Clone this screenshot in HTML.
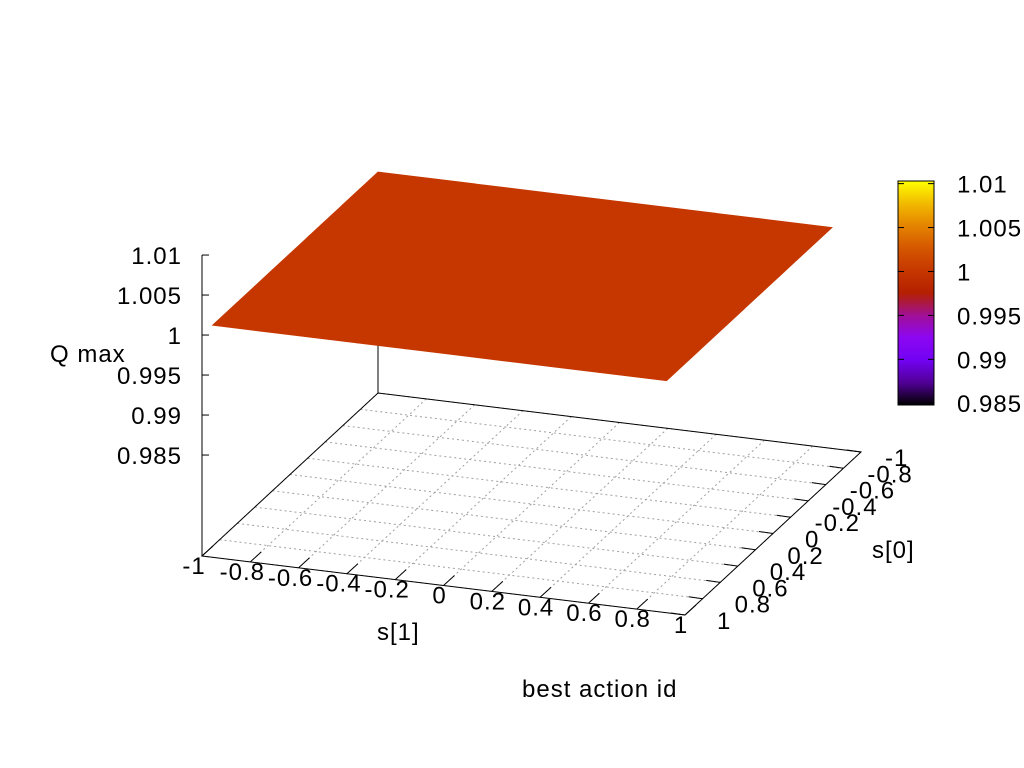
<!DOCTYPE html>
<html><head><meta charset="utf-8"><style>
html,body{margin:0;padding:0;background:#fff;}
svg{display:block;font-family:"Liberation Sans",sans-serif;}
svg text{letter-spacing:1px;}
</style></head><body>
<svg id="chart" width="1024" height="768" viewBox="0 0 1024 768" xmlns="http://www.w3.org/2000/svg">
<defs>
<linearGradient id="pal" x1="0" y1="1" x2="0" y2="0">
<stop offset="0" stop-color="rgb(0,0,0)"/>
<stop offset="0.1" stop-color="rgb(81,0,150)"/>
<stop offset="0.2" stop-color="rgb(114,2,243)"/>
<stop offset="0.3" stop-color="rgb(140,7,243)"/>
<stop offset="0.4" stop-color="rgb(161,16,150)"/>
<stop offset="0.5" stop-color="rgb(180,32,0)"/>
<stop offset="0.6" stop-color="rgb(198,55,0)"/>
<stop offset="0.7" stop-color="rgb(213,87,0)"/>
<stop offset="0.8" stop-color="rgb(228,131,0)"/>
<stop offset="0.9" stop-color="rgb(242,186,0)"/>
<stop offset="1" stop-color="rgb(255,255,0)"/>
</linearGradient>
</defs>
<g id="base"></g>
<g id="surf"></g>
<g id="labels"></g>
</svg>
<script>
const s1Ticks = [-1,-0.8,-0.6,-0.4,-0.2,0,0.2,0.4,0.6,0.8,1];
const s0Ticks = [-1,-0.8,-0.6,-0.4,-0.2,0,0.2,0.4,0.6,0.8,1];
const zTicks = [1.01,1.005,1,0.995,0.99,0.985];
const cbTicks = [1.01,1.005,1,0.995,0.99,0.985];
const s1Grid = [-1,-0.8,-0.6,-0.4,-0.2,0,0.2,0.4,0.6,0.88];
const s0Grid = [-1,-0.8,-0.6,-0.4,-0.2,0,0.2,0.4,0.6,0.88];
const zGrid = [
[1,1,1,1,1,1,1,1,1,1],[1,1,1,1,1,1,1,1,1,1],[1,1,1,1,1,1,1,1,1,1],
[1,1,1,1,1,1,1,1,1,1],[1,1,1,1,1,1,1,1,1,1],[1,1,1,1,1,1,1,1,1,1],
[1,1,1,1,1,1,1,1,1,1],[1,1,1,1,1,1,1,1,1,1],[1,1,1,1,1,1,1,1,1,1],
[1,1,1,1,1,1,1,1,1,1]];
const zMin = 0.985, zMax = 1.01;

const NS = "http://www.w3.org/2000/svg";
const FS = 24;
const Z0 = 0.97238;
function P(s1, s0, z){
  return [378 + (s1+1)*241.5 - (s0+1)*88,
          393 + (s1+1)*29.5 + (s0+1)*81.5 - (z-Z0)*8000];
}
function mk(tag, attrs, parent){
  const e = document.createElementNS(NS, tag);
  for (const k in attrs) e.setAttribute(k, attrs[k]);
  parent.appendChild(e); return e;
}
function palette(t){
  t = Math.max(0, Math.min(1, t));
  const r = Math.sqrt(t), g = t*t*t, b = Math.max(0, Math.sin(2*Math.PI*t));
  return `rgb(${Math.round(r*255)},${Math.round(g*255)},${Math.round(b*255)})`;
}
const base = document.getElementById('base');
const surf = document.getElementById('surf');
const labels = document.getElementById('labels');

s1Ticks.forEach(v=>{
  const a=P(v,-1,Z0), b=P(v,1,Z0);
  const l=mk('line',{x1:a[0],y1:a[1],x2:b[0],y2:b[1],stroke:'#a0a0a0','stroke-width':1,'stroke-dasharray':'2,3'},base);
  
  
});
s0Ticks.forEach(v=>{
  const a=P(-1,v,Z0), b=P(1,v,Z0);
  const l=mk('line',{x1:a[0],y1:a[1],x2:b[0],y2:b[1],stroke:'#a0a0a0','stroke-width':1,'stroke-dasharray':'2,3'},base);
  
  
});
const corners=[P(-1,-1,Z0),P(1,-1,Z0),P(1,1,Z0),P(-1,1,Z0)];
const border=mk('polygon',{points:corners.map(c=>c.join(',')).join(' '),fill:'none',stroke:'#000','stroke-width':1},base);


const bv0=P(-1,-1,Z0), bv1=P(-1,-1,1);
const bvl=mk('line',{x1:bv0[0],y1:bv0[1],x2:bv1[0],y2:bv1[1],stroke:'#000','stroke-width':1},base);


const za=P(-1,1,Z0), zb=P(-1,1,zMax);
const zl=mk('line',{x1:za[0],y1:za[1],x2:zb[0],y2:zb[1],stroke:'#000','stroke-width':1},base);


zTicks.forEach(v=>{
  const p=P(-1,1,v);
  const t=mk('line',{x1:p[0],y1:p[1],x2:p[0]+7,y2:p[1],stroke:'#000'},base);
  
  
  const tx=mk('text',{x:182,y:p[1]+9,'font-size':FS,'text-anchor':'end'},labels);
  tx.textContent=String(v);
  
  
});
s1Ticks.forEach(v=>{
  const p=P(v,1,Z0);
  const t=mk('line',{x1:p[0],y1:p[1],x2:p[0]+11,y2:p[1]-10,stroke:'#000'},base);
  
  
  const tx=mk('text',{x:p[0]-4-(v<0?4:0),y:p[1]+18,'font-size':FS,'text-anchor':'middle'},labels);
  tx.textContent=String(v);
  
  
});
s0Ticks.forEach(v=>{
  const p=P(1,v,Z0);
  const t=mk('line',{x1:p[0],y1:p[1],x2:p[0]-14,y2:p[1]-2,stroke:'#000'},base);
  
  
  const tx=mk('text',{x:p[0]+32-(v<0?8:0),y:p[1]+14,'font-size':FS,'text-anchor':'start'},labels);
  tx.textContent=String(v);
  
  
});
for(let i=0;i<s0Grid.length-1;i++){
  for(let j=0;j<s1Grid.length-1;j++){
    const zs=[zGrid[i][j],zGrid[i][j+1],zGrid[i+1][j+1],zGrid[i+1][j]];
    const pts=[P(s1Grid[j],s0Grid[i],zs[0]),P(s1Grid[j+1],s0Grid[i],zs[1]),
               P(s1Grid[j+1],s0Grid[i+1],zs[2]),P(s1Grid[j],s0Grid[i+1],zs[3])];
    const zm=(zs[0]+zs[1]+zs[2]+zs[3])/4;
    const c=palette((zm-zMin)/(zMax-zMin));
    const q=mk('polygon',{points:pts.map(p=>p.join(',')).join(' '),fill:c,stroke:c,'stroke-width':0.8},surf);
    
    
  }
}
const cbTop=181, cbBot=405;
const cb=mk('rect',{x:898,y:cbTop,width:36,height:cbBot-cbTop,fill:'url(#pal)',stroke:'#000','stroke-width':1},labels);


cbTicks.forEach(v=>{
  const y=cbBot-(v-0.9848)/(1.0103-0.9848)*(cbBot-cbTop);
  const t1=mk('line',{x1:898,y1:y,x2:904,y2:y,stroke:'#000'},labels);
  
  
  const t2=mk('line',{x1:928,y1:y,x2:934,y2:y,stroke:'#000'},labels);
  
  
  const tx=mk('text',{x:957,y:y+9,'font-size':FS},labels);
  tx.textContent=String(v);
  
  
});
[['Q max',50,362,'z-axis-title'],['s[1]',377,640,'s1-axis-title'],['s[0]',872,558,'s0-axis-title'],['best action id',522,697,'cb-axis-title']].forEach(a=>{
  const tx=mk('text',{x:a[1],y:a[2],'font-size':FS},labels);
  tx.textContent=a[0];
  
  
});
</script>
</body></html>
